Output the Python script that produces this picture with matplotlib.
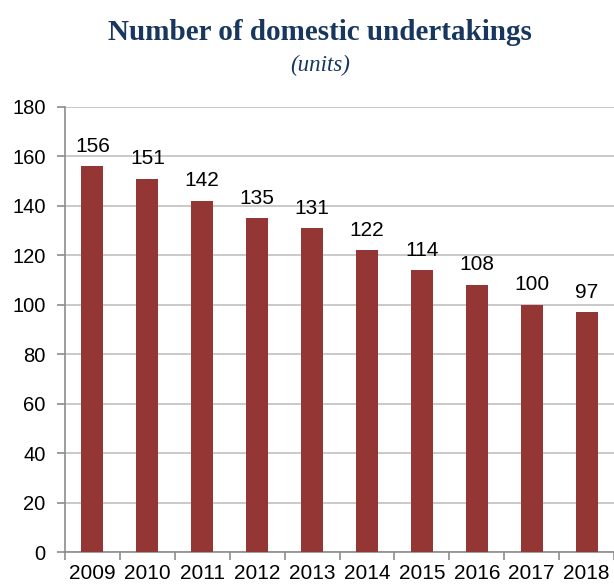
import matplotlib
matplotlib.use("Agg")
import matplotlib.pyplot as plt
from matplotlib.ticker import MultipleLocator, FixedLocator

years = ["2009", "2010", "2011", "2012", "2013", "2014", "2015", "2016", "2017", "2018"]
undertakings = [156, 151, 142, 135, 131, 122, 114, 108, 100, 97]

bar_color = "#943634"
title_color = "#17375E"
grid_color = "#C0C0C0"
axis_color = "#8C8C8C"

plt.rcParams["font.family"] = ["Liberation Sans", "DejaVu Sans"]

fig = plt.figure(figsize=(6.14, 5.88), dpi=100)
ax = fig.add_axes([65 / 614, 1 - 552 / 588, 1 - 65 / 614, (552 - 107) / 588])

x = list(range(len(years)))
bars = ax.bar(x, undertakings, width=0.4, color=bar_color, zorder=3)

for xi, v in zip(x, undertakings):
    ax.annotate(str(v), (xi, v), xytext=(0, 10.5), textcoords="offset points",
                ha="center", va="baseline", fontsize=15, color="black")

ax.set_xlim(-0.5, len(years) - 0.5)
ax.set_ylim(0, 180)
ax.yaxis.set_major_locator(MultipleLocator(20))
ax.grid(axis="y", color=grid_color, linewidth=1.2, zorder=0)
ax.set_axisbelow(True)

ax.set_xticks(x)
ax.set_xticklabels(years, fontsize=15)
ax.tick_params(axis="x", which="major", length=0, pad=8.5)
ax.xaxis.set_minor_locator(FixedLocator([i - 0.5 for i in range(len(years) + 1)]))
ax.tick_params(axis="x", which="minor", length=6, color=axis_color, width=1.2)
ax.tick_params(axis="y", labelsize=14.5, length=5.5, color=axis_color, width=1.2, pad=8.5)

for side in ("top", "right"):
    ax.spines[side].set_visible(False)
for side in ("left", "bottom"):
    ax.spines[side].set_color(axis_color)
    ax.spines[side].set_linewidth(1.2)

fig.text(320 / 614, 1 - 33 / 588, "Number of domestic undertakings",
         ha="center", va="center", fontsize=21, fontweight="bold",
         family="Liberation Serif", color=title_color)
fig.text(320 / 614, 1 - 65 / 588, "(units)", ha="center", va="center",
         fontsize=16.5, style="italic", family="Liberation Serif", color=title_color)

fig.savefig("out.png", dpi=100)
